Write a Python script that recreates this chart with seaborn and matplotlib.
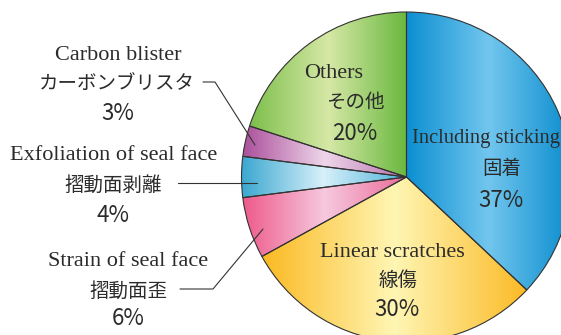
import numpy as np
import matplotlib
matplotlib.use("Agg")
import matplotlib.pyplot as plt
from matplotlib.colors import LinearSegmentedColormap
import seaborn as sns

# ---- data ----
labels_en = ["Including sticking", "Linear scratches", "Strain of seal face",
             "Exfoliation of seal face", "Carbon blister", "Others"]
labels_ja = ["固着", "線傷", "摺動面歪", "摺動面剥離", "カーボンブリスタ", "その他"]
values = [37, 30, 6, 4, 3, 20]

# gradient colours (left edge, middle, right edge)
grads = [
    ["#0b8fd1", "#72c6ee", "#0a8ccd"],
    ["#fbb922", "#fff6b4", "#fbba26"],
    ["#ee5a8b", "#f6c9de", "#ec6b98"],
    ["#3aa7d0", "#d8f0fa", "#4db2da"],
    ["#ab509b", "#eed6ea", "#b872ad"],
    ["#7dbf4b", "#d6e8a6", "#6ab83f"],
]

sns.set_theme(style="white")
plt.rcParams["font.family"] = ["Noto Sans CJK JP", "DejaVu Sans"]

W, H = 561, 335
fig = plt.figure(figsize=(W / 100, H / 100), dpi=100)
ax = fig.add_axes([0, 0, 1, 1])
ax.set_axis_off()

cx, cy, R = 406.5, H - 177, 165
wedges, _ = ax.pie(values, startangle=90, counterclock=False, center=(cx, cy),
                   radius=R, wedgeprops=dict(edgecolor="#333333", linewidth=0.8,
                                             facecolor="none", zorder=3))

grad = np.linspace(0, 1, 256).reshape(1, -1)
for w, cols in zip(wedges, grads):
    ext = w.get_path().get_extents(w.get_patch_transform())
    cmap = LinearSegmentedColormap.from_list("g", cols)
    im = ax.imshow(grad, cmap=cmap, extent=[ext.x0, ext.x1, ext.y0, ext.y1],
                   aspect="auto", zorder=1, interpolation="bilinear")
    im.set_clip_path(w)

ax.set_xlim(0, W)
ax.set_ylim(0, H)
ax.set_aspect("equal")

tc = "#2b2b2b"
serif = ["Liberation Serif", "DejaVu Serif"]
jfont = ["Noto Sans CJK JP", "DejaVu Sans"]

def Y(y):
    return H - y

def block(i, en_xy, ja_xy, pc_xy, en_size=16):
    ax.text(en_xy[0], Y(en_xy[1]), labels_en[i], family=serif, fontsize=en_size,
            color=tc, ha="center", va="baseline")
    ax.text(ja_xy[0], Y(ja_xy[1]), labels_ja[i], family=jfont, fontsize=14,
            color=tc, ha="center", va="center")
    ax.text(pc_xy[0], Y(pc_xy[1]), f"{values[i]}%", family=jfont, fontsize=16,
            color=tc, ha="center", va="baseline")

# inside labels
block(0, (486, 143), (502, 169), (501, 207), en_size=14.8)
block(1, (392.5, 257), (398, 280), (396.5, 316))
block(5, (334, 78), (355, 102.5), (355, 140))

# outside labels
block(4, (118, 60), (116.5, 83), (118, 120))
block(3, (113.5, 160), (113.5, 185), (113, 222))
block(2, (128, 266), (128, 291.5), (128, 325))

lc = "#333333"
ax.plot([203, 215, 255], [Y(82), Y(82), Y(145)], color=lc, lw=0.8, zorder=4)
ax.plot([178, 257], [Y(183), Y(183)], color=lc, lw=0.8, zorder=4)
ax.plot([180, 213, 263], [Y(289), Y(289), Y(229)], color=lc, lw=0.8, zorder=4)

fig.savefig("out.png", dpi=100)
